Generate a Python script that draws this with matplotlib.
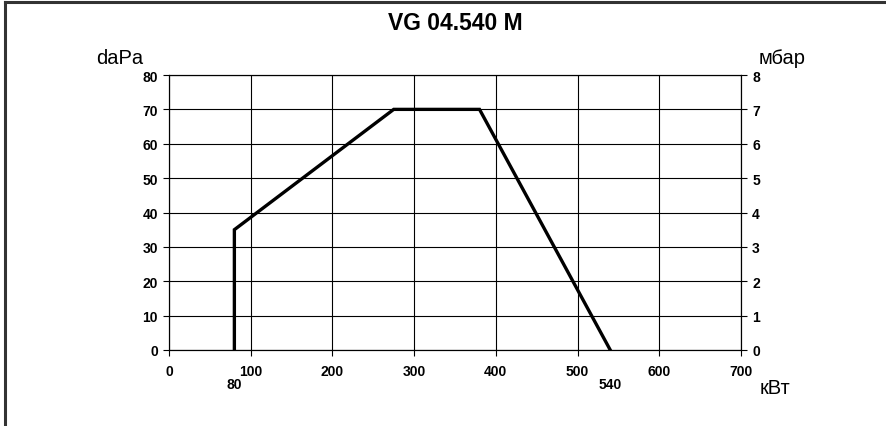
import matplotlib.pyplot as plt
from matplotlib.lines import Line2D
from matplotlib import transforms

plt.rcParams['font.family'] = ['Liberation Sans', 'DejaVu Sans']

# Working field of the burner
power_kw = [80, 80, 275, 380, 540]
pressure_dapa = [0, 35, 70, 70, 0]

x_ticks = [0, 100, 200, 300, 400, 500, 600, 700]
y_ticks = [0, 10, 20, 30, 40, 50, 60, 70, 80]
mbar_ticks = [0, 1, 2, 3, 4, 5, 6, 7, 8]
extra_x_labels = [80, 540]

fig = plt.figure(figsize=(8.86, 4.27), dpi=100)
ax = fig.add_axes([169 / 886, 1 - 351 / 427, 572 / 886, 275 / 427])

ax.plot(power_kw, pressure_dapa, color='black', lw=2.4, solid_joinstyle='miter')

ax.set_xlim(0, 700)
ax.set_ylim(0, 80)
ax.set_xticks(x_ticks)
ax.set_yticks(y_ticks)
ax.grid(True, color='black', lw=0.8)
for s in ax.spines.values():
    s.set_linewidth(0.8)
ax.tick_params(axis='both', direction='out', length=4, width=0.8,
               labelsize=10)
ax.tick_params(axis='x', pad=6)
ax.tick_params(axis='y', pad=4)
for lbl in ax.get_xticklabels() + ax.get_yticklabels():
    lbl.set_fontweight('bold')

ax2 = ax.twinx()
ax2.set_ylim(0, 8)
ax2.set_yticks(mbar_ticks)
ax2.tick_params(axis='y', direction='out', length=4, width=0.8,
                labelsize=10, pad=4)
for lbl in ax2.get_yticklabels():
    lbl.set_fontweight('bold')

# second row of x labels under the axis
trans = transforms.blended_transform_factory(ax.transData, ax.transAxes)
for v in extra_x_labels:
    ax.text(v, -0.122, str(v), transform=trans, ha='center', va='center',
            fontsize=10, fontweight='bold')

ax.set_title('VG 04.540 M', fontsize=16.5, fontweight='bold', pad=33)

fig.text(120 / 886, 1 - 58 / 427, 'daPa', ha='center', va='center', fontsize=14.5)
fig.text(782 / 886, 1 - 58 / 427, 'мбар', ha='center', va='center', fontsize=14.5)
fig.text(775 / 886, 1 - 389 / 427, 'кВт', ha='center', va='center', fontsize=14.5)

# frame lines on left and top
fig.add_artist(Line2D([5 / 886, 5 / 886], [0, 1 - 2.5 / 427], color='#333333', lw=2.2))
fig.add_artist(Line2D([5 / 886, 1], [1 - 2.5 / 427, 1 - 2.5 / 427], color='#333333', lw=2.2))

fig.savefig('out.png', dpi=100)
